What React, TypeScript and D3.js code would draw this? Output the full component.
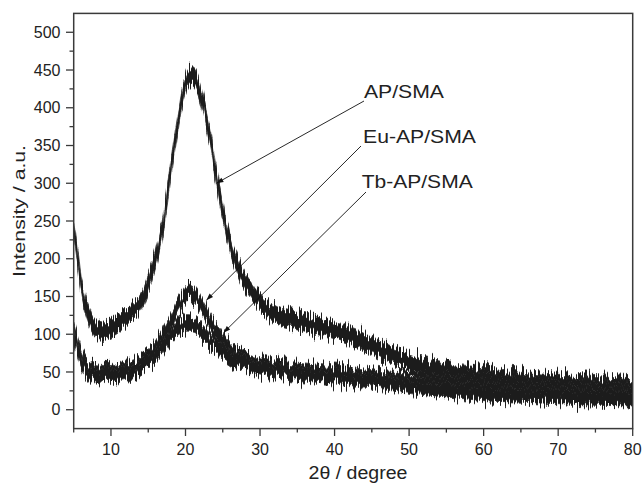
import React from "react";
import * as d3 from "d3";

// 2θ sample positions (degrees) shared by all three patterns
const theta = [5, 5.5, 6, 6.5, 7, 7.5, 8, 9, 10, 11, 12, 13, 14, 15, 16, 17, 17.5, 18, 18.5, 19, 19.5, 20, 20.5, 21, 21.5, 22, 22.5, 23, 23.5, 24, 25, 26, 27, 28, 29, 30, 32, 35, 37, 40, 42, 44, 46, 48, 50, 53, 56, 60, 65, 70, 75, 80];

// intensities (a.u.)
const apSMA = [240, 205, 165, 140, 125, 113, 107, 104, 107, 113, 122, 133, 145, 170, 200, 245, 280, 315, 348, 380, 410, 430, 440, 442, 435, 420, 398, 375, 350, 318, 262, 218, 190, 170, 156, 142, 127, 118, 112, 105, 98, 90, 80, 72, 64, 56, 50, 45, 40, 36, 33, 30];
const euAPSMA = [105, 88, 72, 62, 56, 53, 51, 50, 50, 51, 53, 56, 62, 70, 82, 98, 106, 115, 125, 135, 143, 150, 155, 153, 148, 140, 131, 122, 113, 105, 92, 80, 72, 66, 62, 59, 56, 53, 51, 48, 46, 44, 42, 41, 40, 37, 35, 33, 30, 27, 25, 22];
const tbAPSMA = [98, 82, 66, 56, 51, 48, 47, 45, 45, 46, 48, 50, 55, 62, 72, 85, 91, 97, 103, 108, 111, 113, 113, 112, 110, 105, 100, 95, 90, 85, 77, 70, 64, 60, 57, 55, 51, 48, 46, 43, 41, 39, 37, 35, 32, 28, 25, 21, 19, 17, 15, 14];

// half-width of the noise band of each pattern (a.u.)
const noiseSpread = [11, 10, 9];
const seriesNames = ["AP/SMA", "Eu-AP/SMA", "Tb-AP/SMA"];

const xTicks = [10, 20, 30, 40, 50, 60, 70, 80];
const xMinorTicks = [5, 15, 25, 35, 45, 55, 65, 75];
const yTicks = [0, 50, 100, 150, 200, 250, 300, 350, 400, 450, 500];
const yMinorTicks = [25, 75, 125, 175, 225, 275, 325, 375, 425, 475];

// annotation: label and arrow tip (data coords of tip)
const labelTips = [
  { name: "AP/SMA", tip: [24.15, 300] },
  { name: "Eu-AP/SMA", tip: [22.8, 145] },
  { name: "Tb-AP/SMA", tip: [25.1, 102] },
];

export default function App() {
  const W = 644, H = 483;
  const x = d3.scaleLinear().domain([5, 80]).range([73.7, 632.7]);
  const y = d3.scaleLinear().domain([-25, 525]).range([428.6, 13.4]);
  const series = [apSMA, euAPSMA, tbAPSMA];
  const font = "'Liberation Sans', Arial, Helvetica, sans-serif";
  const axisColor = "#3a3a3a";

  const bands = series.map((vals, si) =>
    d3
      .area<number>()
      .x((_, i) => x(theta[i]))
      .y0((v) => y(v - noiseSpread[si]))
      .y1((v) => y(v + noiseSpread[si]))
      .curve(d3.curveMonotoneX)(vals) as string
  );

  const labelPos = [
    { tx: 364, ty: 98.3, w: 80, ax: 364, ay: 101 },
    { tx: 363, ty: 143.3, w: 113, ax: 361, ay: 146 },
    { tx: 361.7, ty: 187.7, w: 111, ax: 366, ay: 192 },
  ];

  return (
    <svg width={W} height={H} style={{ position: "absolute", left: 0, top: 0, background: "#fff" }}>
      <defs>
        <clipPath id="plot">
          <rect x={73.7} y={13.4} width={559} height={415.2} />
        </clipPath>
        <filter id="grain" x="-2%" y="-20%" width="104%" height="140%">
          <feTurbulence type="fractalNoise" baseFrequency="0.75 0.015" numOctaves="2" seed="7" result="n" />
          <feColorMatrix in="n" type="matrix" values="0 0 0 0 0.5  0 1 0 0 0  0 0 0 0 0  0 0 0 0 1" result="m" />
          <feDisplacementMap in="SourceGraphic" in2="m" scale="26" xChannelSelector="R" yChannelSelector="G" />
        </filter>
        <marker id="arrow" viewBox="0 0 10 10" refX="10" refY="5" markerWidth="9" markerHeight="7" orient="auto" markerUnits="userSpaceOnUse">
          <path d="M0,1.5 L10,5 L0,8.5 Z" fill="#111" />
        </marker>
      </defs>

      <g clipPath="url(#plot)">
        <g filter="url(#grain)">
          {bands.map((d, i) => (
            <path key={seriesNames[i]} d={d} fill="#1c1c1c" stroke="#333" strokeWidth={0.8} />
          ))}
        </g>
      </g>

      {/* frame */}
      <rect x={73.7} y={13.4} width={559} height={415.2} fill="none" stroke={axisColor} strokeWidth={1.5} />

      {/* x ticks */}
      {xTicks.map((t) => (
        <g key={"xt" + t}>
          <line x1={x(t)} x2={x(t)} y1={428.6} y2={436} stroke={axisColor} strokeWidth={1.3} />
          <text x={x(t)} y={455} textAnchor="middle" fontSize={16} fontFamily={font} fill="#222">
            {t}
          </text>
        </g>
      ))}
      {xMinorTicks.map((t) => (
        <line key={"xm" + t} x1={x(t)} x2={x(t)} y1={428.6} y2={432.6} stroke={axisColor} strokeWidth={1.3} />
      ))}

      {/* y ticks */}
      {yTicks.map((t) => (
        <g key={"yt" + t}>
          <line x1={66} x2={73.7} y1={y(t)} y2={y(t)} stroke={axisColor} strokeWidth={1.3} />
          <text x={60.5} y={y(t) + 5.6} textAnchor="end" fontSize={16} fontFamily={font} fill="#222">
            {t}
          </text>
        </g>
      ))}
      {yMinorTicks.map((t) => (
        <line key={"ym" + t} x1={69.5} x2={73.7} y1={y(t)} y2={y(t)} stroke={axisColor} strokeWidth={1.3} />
      ))}

      {/* axis titles */}
      <text
        transform="rotate(-90)"
        x={-211}
        y={24.5}
        textAnchor="middle"
        fontSize={17}
        fontFamily={font}
        fill="#222"
        textLength={132}
        lengthAdjust="spacingAndGlyphs"
      >
        Intensity / a.u.
      </text>
      <text x={358} y={479.3} textAnchor="middle" fontSize={17.5} fontFamily={font} fill="#222" textLength={99} lengthAdjust="spacingAndGlyphs">
        2θ / degree
      </text>

      {/* annotations */}
      {labelTips.map((l, i) => {
        const p = labelPos[i];
        return (
          <g key={l.name}>
            <line x1={p.ax} y1={p.ay} x2={x(l.tip[0])} y2={y(l.tip[1])} stroke="#111" strokeWidth={0.9} markerEnd="url(#arrow)" />
            <text x={p.tx} y={p.ty} fontSize={18} fontFamily={font} fill="#222" textLength={p.w} lengthAdjust="spacingAndGlyphs">
              {l.name}
            </text>
          </g>
        );
      })}
    </svg>
  );
}
